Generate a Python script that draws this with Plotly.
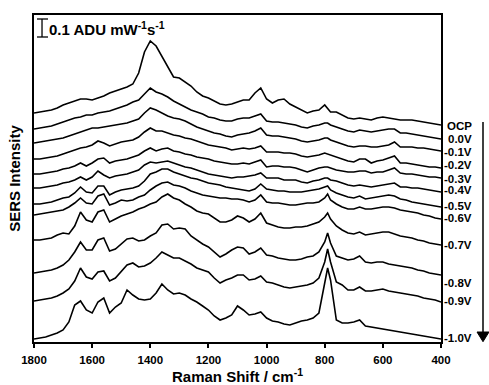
import plotly.graph_objects as go

# Raman shift grid (cm^-1)
raman_shift = list(range(1800, 799, -20)) + [790] + list(range(780, 399, -20))

# Stacked SERS intensities (arb. counts; 18 counts = 0.1 ADU mW^-1 s^-1)
ocp = [229,230,231,232,234,237,239,241,243,243,242,244,246,249,251,253,255,258,269,290,
       301,296,286,275,265,264,260,256,250,246,244,241,238,237,238,240,242,242,249,254,
       243,239,242,243,238,235,232,229,231,232,237,234,230,230,227,224,223,224,223,222,
       224,225,224,223,222,222,222,221,220,219,218,217]
v0_0 = [213,214,215,216,218,220,222,224,225,227,227,229,230,231,233,235,237,240,242,248,
        254,250,248,245,241,238,235,232,230,228,225,224,222,221,221,223,224,224,226,228,
        221,220,220,219,218,217,215,214,216,217,219,219,217,215,213,211,210,212,211,210,
        211,212,213,213,209,209,208,207,206,205,204,203]
v0_1 = [199,200,201,202,203,204,206,208,210,212,214,214,215,216,217,218,219,221,223,229,
        234,232,229,226,224,223,221,218,215,213,211,209,208,206,205,207,208,209,211,214,
        207,206,206,205,204,203,201,200,201,202,204,204,202,200,198,196,195,196,196,195,
        195,196,197,200,195,195,195,194,194,193,192,191]
v0_2 = [183,183,184,185,186,188,190,192,194,195,197,201,199,196,198,200,201,202,205,210,
        214,211,211,209,207,206,204,203,201,199,197,196,195,194,192,193,194,193,194,196,
        190,190,190,189,189,188,186,185,186,187,189,188,187,185,183,181,180,183,183,179,
        181,182,184,186,179,179,178,177,176,175,175,174]
v0_3 = [168,168,169,170,171,173,174,176,179,176,179,183,184,179,181,182,183,185,187,191,
        194,191,193,194,191,190,188,187,185,184,183,181,180,179,178,178,179,178,180,182,
        175,176,176,175,175,174,172,170,172,174,175,175,174,172,171,170,170,171,171,169,
        170,170,172,174,169,168,168,167,166,165,165,164]
v0_4 = [154,154,155,156,157,159,160,162,165,162,165,171,167,164,166,167,168,170,172,177,
        180,179,180,181,179,177,175,174,172,170,168,167,166,165,164,165,165,166,167,169,
        164,164,164,162,162,162,160,159,161,162,164,164,162,161,159,157,156,157,156,155,
        156,157,158,159,155,155,154,154,153,152,151,150]
v0_5 = [138,138,139,140,142,144,145,149,155,150,149,156,156,147,150,152,153,154,156,161,
        168,170,173,173,170,168,166,164,163,161,159,158,157,155,154,153,152,151,153,158,
        153,152,151,151,150,150,150,151,152,153,155,156,152,149,147,145,144,146,143,144,
        145,146,147,146,143,142,140,139,138,137,136,135]
v0_6 = [127,128,129,130,131,132,135,139,144,139,138,146,148,137,139,142,141,142,145,147,
        152,156,159,160,157,156,154,151,149,147,146,145,144,144,143,143,142,140,142,147,
        140,139,139,138,137,137,138,139,139,140,144,148,142,138,135,133,133,135,133,133,
        134,135,135,134,132,131,130,129,127,126,124,123]
v0_7 = [102,102,103,104,107,109,108,116,130,122,120,130,132,120,123,126,128,130,133,135,
        138,140,145,148,144,142,138,135,131,129,128,124,120,120,122,126,124,120,123,129,
        119,117,115,114,114,115,115,116,118,120,125,129,123,116,112,109,108,110,107,108,
        109,110,110,108,106,105,104,102,101,99,98,97]
v0_8 = [69,70,71,72,74,77,82,90,100,92,92,102,104,91,93,98,103,104,101,102,
        106,109,117,118,113,114,113,106,102,98,95,90,85,88,92,95,94,88,90,94,
        87,86,84,83,82,82,83,85,86,90,100,109,99,86,84,82,83,86,80,79,
        80,80,78,77,76,75,74,72,71,69,68,67]
v0_9 = [41,42,43,44,46,49,53,61,74,65,63,70,71,61,64,70,77,79,75,76,
        79,84,90,87,84,84,81,78,74,72,70,64,59,62,64,67,67,62,63,66,
        60,59,57,55,54,55,56,57,59,64,80,93,80,60,57,52,52,55,51,51,
        52,53,51,50,49,48,47,46,44,43,42,40]
v1_0 = [3,4,5,7,9,12,20,37,41,32,29,40,44,29,35,39,52,47,43,42,
        43,49,58,52,48,49,47,43,40,36,32,26,22,24,27,36,32,27,28,30,
        24,21,20,18,17,19,21,22,24,29,57,74,62,22,19,19,20,22,16,15,
        14,13,12,11,10,9,8,7,6,5,4,3]

series = [ocp, v0_0, v0_1, v0_2, v0_3, v0_4, v0_5, v0_6, v0_7, v0_8, v0_9, v1_0]
potential_labels = ["OCP", "0.0V", "-0.1V", "-0.2V", "-0.3V", "-0.4V",
                    "-0.5V", "-0.6V", "-0.7V", "-0.8V", "-0.9V", "-1.0V"]
label_levels = [216, 203, 190, 177, 163, 152, 136, 124, 97, 59, 41, 4]
x_ticks = [1800, 1600, 1400, 1200, 1000, 800, 600, 400]
scale_bar = 18
scale_text = "0.1 ADU mW<sup>-1</sup>s<sup>-1</sup>"
Y_MAX = 327

FONT = "Liberation Sans, Arial, sans-serif"

fig = go.Figure()
for ys, name in zip(series, potential_labels):
    fig.add_trace(go.Scatter(x=raman_shift, y=ys, mode="lines", name=name,
                             line=dict(color="black", width=1.6), showlegend=False))

annotations = []
for lab, lev in zip(potential_labels, label_levels):
    annotations.append(dict(x=1.0811, xref="paper", y=lev, yref="y", text=lab,
                            showarrow=False, xanchor="right", yanchor="middle",
                            font=dict(family=FONT, size=11.5, color="black", weight="bold")))
annotations.append(dict(x=0.031, xref="paper", y=314, yref="y", text=scale_text,
                        showarrow=False, xanchor="left", yanchor="middle",
                        font=dict(family=FONT, size=15, color="black", weight="bold")))

def py(v):
    return v / Y_MAX

bar_top = 323
bar_bot = bar_top - scale_bar
shapes = [
    dict(type="line", xref="paper", yref="paper", x0=0.0197, x1=0.0197,
         y0=py(bar_bot), y1=py(bar_top), line=dict(color="black", width=1.3)),
    dict(type="line", xref="paper", yref="paper", x0=0.0074, x1=0.0344,
         y0=py(bar_top), y1=py(bar_top), line=dict(color="black", width=1.3)),
    dict(type="line", xref="paper", yref="paper", x0=0.0074, x1=0.0344,
         y0=py(bar_bot), y1=py(bar_bot), line=dict(color="black", width=1.3)),
    # potential arrow
    dict(type="line", xref="paper", yref="paper", x0=1.1032, x1=1.1032,
         y0=py(220), y1=py(9), line=dict(color="black", width=1.5)),
    dict(type="path", xref="paper", yref="paper",
         path=f"M 1.0885,{py(10)} L 1.1179,{py(10)} L 1.1032,{py(0.3)} Z",
         fillcolor="black", line=dict(color="black", width=1)),
]

fig.update_layout(
    width=489, height=385,
    margin=dict(l=34, r=48, t=15, b=43, autoexpand=False),
    paper_bgcolor="white", plot_bgcolor="white",
    font=dict(family=FONT, color="black"),
    annotations=annotations, shapes=shapes,
    xaxis=dict(range=[1800, 400], tickvals=x_ticks, ticktext=[str(t) for t in x_ticks],
               automargin=False,
               showline=True, mirror=True, linecolor="black", linewidth=1.5,
               ticks="outside", ticklen=4, tickwidth=1.5, tickcolor="black",
               ticklabelstandoff=2,
               showgrid=False, zeroline=False,
               tickfont=dict(family=FONT, size=11.5, color="black", weight="bold"),
               title=dict(text="Raman Shift / cm<sup>-1</sup>", standoff=5,
                          font=dict(family=FONT, size=15, color="black", weight="bold"))),
    yaxis=dict(range=[0, Y_MAX], showticklabels=False, ticks="", automargin=False,
               showline=True, mirror=True, linecolor="black", linewidth=1.5,
               showgrid=False, zeroline=False,
               title=dict(text="SERS Intensity", standoff=8,
                          font=dict(family=FONT, size=15, color="black", weight="bold"))),
)

fig.write_html("out.html")
